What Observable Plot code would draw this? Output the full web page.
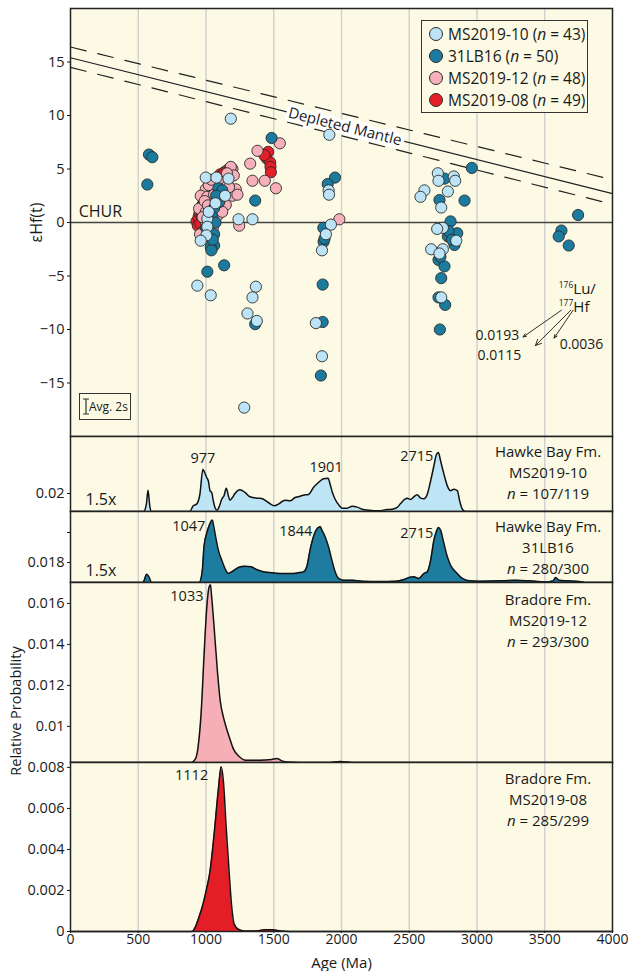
<!DOCTYPE html>
<html><head><meta charset="utf-8">
<script src="https://cdn.jsdelivr.net/npm/d3@7"></script>
<script src="https://cdn.jsdelivr.net/npm/@observablehq/plot@0.6"></script>
<style>
body{margin:0;background:#fff;font-family:"Open Sans",sans-serif;color:#1a1a1a;}
#wrap{position:relative;width:628px;height:971px;overflow:hidden;}
#wrap svg{display:block;}
#wrap g[aria-label="y-axis label"]{font-size:16px;}
#wrap g[aria-label="x-axis label"]{font-size:15px;}
.ov{position:absolute;font-size:14px;line-height:21px;white-space:nowrap;}
.legend{position:absolute;border:1.3px solid #333;background:#FCFAE4;box-sizing:border-box;padding:2px 0 0 7px;}
.legend .row{height:22px;line-height:22px;font-size:15.5px;display:flex;align-items:center;white-space:nowrap;}
.legend .sw{display:inline-block;width:12px;height:12px;border-radius:50%;border:1px solid #2b2b2b;margin-right:5px;flex:none;}
.plab{position:absolute;text-align:center;font-size:15px;line-height:21px;width:150px;}
</style></head><body><div id="wrap"></div>
<script>
// ---------- data ----------
const ageDomain = [0, 4000];
const xTicks = [0, 500, 1000, 1500, 2000, 2500, 3000, 3500, 4000];
const gridAges = [500, 1000, 1500, 2000, 2500, 3000, 3500];
const epsDomain = [-20, 20];
const epsTicks = [-15, -10, -5, 0, 5, 10, 15];

// Depleted mantle evolution lines (age Ma, eHf)
const dmAges = [0, 4000];
const dmSolid = [15.4, 2.7];
const dmUpper = [16.4, 4.0];
const dmLower = [14.5, 1.7];
const dmLabel = [{age: 2025, eps: 8.95, text: "Depleted Mantle"}];

// sample names
const sampleNames = ["MS2019-10", "31LB16", "MS2019-12", "MS2019-08"];
const sampleCounts = [43, 50, 48, 49];
const sampleColors = ["#BCE4F6", "#1B7B9F", "#F5B0B9", "#E51F27"];

// eHf(t) points [age, eHf]
const ms201910 = [[1183,9.7],[1910,8.2],[1905,3.0],[1908,2.6],[1240,0.3],[1343,0.3],[998,4.2],[1077,4.2],[1166,4.1],[1141,2.5],
[1010,0.35],[1010,-0.4],[1003,-1.2],[961,-1.7],[936,-5.9],[1035,-6.8],[1368,-6.0],[1343,-7.0],[1306,-8.5],[1375,-9.2],
[1282,-17.3],[1922,-0.2],[1885,-1.1],[1856,-2.6],[1811,-9.4],[1856,-12.5],[2711,4.6],[2716,3.9],[2829,4.3],[2839,3.9],
[2785,2.9],[2612,3.0],[2583,2.4],[2736,1.4],[2748,-0.5],[2706,-0.6],[2847,-1.7],[2662,-2.5],[2748,-2.5],[2723,-2.9],
[2736,-7.0],[1020,1.0],[1070,1.8]];
const lb31 = [[579,6.35],[604,6.1],[567,3.55],[1484,7.9],[1952,4.2],[1898,3.6],[1363,2.05],[1092,3.2],[1097,1.9],[1060,1.35],
[1060,-1.1],[1060,-2.15],[1035,-2.3],[1040,-2.6],[1010,-4.6],[1134,-4.0],[1363,-9.5],[1866,-0.5],[1868,-1.8],[1861,-5.8],
[1861,-9.3],[1848,-14.3],[2760,4.1],[2723,2.1],[2908,2.05],[2962,5.1],[2805,0.1],[2854,-1.0],[2785,-1.3],[2834,-2.1],
[2716,-3.5],[2760,-4.1],[2736,-5.2],[2716,-7.0],[2765,-7.7],[2726,-10.0],[3746,0.7],[3623,-0.75],[3603,-1.3],[3677,-2.15],
[1875,-1.5],[1000,-0.5],[1046,0.5],[1120,3.0],[1075,2.5],[1050,-1.6],[2790,-0.8],[2730,-3.2],[1070,0.0],[2815,-1.6]];
const ms201912 = [[1545,7.4],[1380,6.7],[1326,5.5],[1343,3.9],[1434,3.9],[1516,3.2],[1195,5.0],[998,3.1],[1047,3.1],[1146,3.0],
[1220,3.1],[961,2.5],[1010,2.4],[1121,2.2],[1195,2.5],[1047,1.9],[986,1.6],[1146,1.65],[949,1.3],[998,0.96],
[1035,0.8],[1085,0.65],[1060,0.03],[1245,-0.3],[974,-0.9],[956,-1.1],[1984,0.3],[1183,5.2],[1130,4.0],[1100,3.8],
[1020,3.5],[1160,3.6],[1232,2.6],[1000,0.0],[1050,-0.5],[1075,1.2],[990,2.0],[1110,2.8],[1170,3.3],[1090,4.0],
[1040,4.0],[975,0.5],[1025,-1.3],[1120,1.0],[1205,4.4],[1060,2.6],[1155,4.6],[1015,1.6]];
const ms201908 = [[930,0.1],[940,-0.3],[945,0.5],[952,0.9],[958,-0.1],[963,1.2],[968,0.6],[972,1.6],[978,1.0],[983,2.0],
[988,1.4],[992,0.3],[996,2.3],[1000,1.8],[1004,1.1],[1008,2.7],[1012,2.1],[1016,3.0],[1020,1.5],[1025,2.5],
[1030,3.3],[1035,2.0],[1040,3.5],[1045,2.8],[1050,1.2],[1055,3.7],[1060,2.4],[1066,3.2],[1072,4.0],[1078,2.9],
[1085,3.6],[1092,4.2],[1098,3.3],[1105,4.5],[1112,3.8],[1120,4.4],[1128,3.5],[1135,4.7],[1145,4.1],[1158,4.9],
[1170,4.3],[1180,5.1],[1035,-0.5],[1459,6.6],[1447,6.0],[1474,5.6],[1476,5.2],[1479,4.7],[1430,6.3]];

// 176Lu/177Hf annotation (age, eHf)
const luSup = [{age: 3711, eps: -6.2, text: "176"}, {age: 3711, eps: -7.95, text: "177"}];
const luMain = [{age: 3711, eps: -6.2, text: "Lu/"}, {age: 3711, eps: -7.95, text: "Hf"}];
const luArrows = [
  {x1: 3623, y1: -8.2, x2: 3340, y2: -10.7, label: "0.0193", lx: 3312, ly: -10.56},
  {x1: 3692, y1: -8.2, x2: 3431, y2: -11.5, label: "0.0115", lx: 3327, ly: -12.4},
  {x1: 3709, y1: -8.2, x2: 3569, y2: -10.8, label: "0.0036", lx: 3771, ly: -11.4}
];
const chur = [{age: 60, eps: 0, text: "CHUR"}];

// Probability density curves [age, relative probability]
const dens10 = [[0,0],[540,0],[560,0.00049],[572,0.00142],[585,0.00038],[595,0],[880,0],[906,0.00038],[931,0.00049],[955,0.00115],
[977,0.00282],[990,0.0026],[1005,0.00227],[1017,0.00205],[1030,0.00138],[1042,0.00127],[1054,0.00071],[1066,0.00027],[1082,0.00009],[1100,0.00038],
[1116,0.00082],[1133,0.00105],[1150,0.00155],[1165,0.00105],[1177,0.00075],[1195,0.00093],[1214,0.0012],[1251,0.00145],[1288,0.00127],[1325,0.00098],
[1374,0.00089],[1411,0.00087],[1460,0.0006],[1505,0.00038],[1534,0.00049],[1584,0.00075],[1621,0.00071],[1658,0.00093],[1682,0.00098],[1719,0.00109],
[1756,0.00113],[1793,0.0016],[1830,0.00193],[1867,0.00218],[1901,0.00222],[1916,0.00182],[1933,0.00127],[1953,0.00082],[1985,0.00038],[2005,0.00022],
[2042,0.00022],[2079,0.00035],[2116,0.00029],[2153,0.00015],[2202,0.00009],[2276,0.00005],[2337,0.00013],[2374,0.00015],[2411,0.00027],[2436,0.00053],
[2468,0.00082],[2485,0.00089],[2510,0.0008],[2534,0.00098],[2559,0.00111],[2584,0.00089],[2608,0.00085],[2633,0.00115],[2658,0.00205],[2682,0.00305],
[2700,0.00378],[2715,0.00393],[2731,0.00338],[2756,0.00249],[2781,0.00171],[2805,0.00138],[2830,0.00149],[2855,0.00138],[2872,0.00071],[2892,0.00015],
[2916,0],[4000,0]];
const dens31 = [[0,0],[535,0],[544,0.00015],[562,0.00055],[579,0.00038],[599,0],[950,0],[973,0.00082],[985,0.00238],[1005,0.00327],
[1022,0.00376],[1047,0.00416],[1054,0.00389],[1071,0.00305],[1091,0.00216],[1116,0.00149],[1140,0.00093],[1165,0.0006],[1190,0.00071],[1239,0.001],
[1288,0.00109],[1333,0.00105],[1374,0.00087],[1424,0.00071],[1485,0.00065],[1559,0.0006],[1633,0.0006],[1682,0.00065],[1719,0.00071],[1744,0.00105],
[1768,0.00216],[1793,0.00305],[1830,0.00367],[1844,0.00371],[1855,0.00349],[1879,0.00305],[1904,0.00238],[1929,0.00149],[1953,0.00071],[1978,0.00027],
[2015,0.00015],[2079,0.00015],[2153,0.00009],[2276,0.00007],[2399,0.00009],[2461,0.0002],[2498,0.00033],[2534,0.00038],[2571,0.00027],[2608,0.0006],
[2633,0.00071],[2658,0.00149],[2682,0.00282],[2700,0.00338],[2715,0.00367],[2731,0.00349],[2756,0.0026],[2781,0.00171],[2805,0.00115],[2842,0.00071],
[2892,0.00027],[2941,0.00011],[3015,0.00009],[3187,0.00011],[3286,0.00015],[3384,0.00011],[3507,0.00004],[3562,0.00011],[3581,0.00033],[3606,0.00015],
[3655,0.00011],[3729,0.00009],[3778,0.00004],[3800,0],[4000,0]];
const dens12 = [[0,0],[891,0],[921,0.00016],[941,0.00073],[965,0.00252],[986,0.00528],[1004,0.0074],[1022,0.00854],[1033,0.00867],[1040,0.00821],
[1060,0.00659],[1084,0.00447],[1105,0.00301],[1129,0.0022],[1149,0.00171],[1173,0.00122],[1203,0.00065],[1247,0.00028],[1292,0.00011],[1396,0.00011],
[1485,0.00015],[1521,0.0002],[1559,0.00008],[1604,0.00002],[1700,0],[1900,0],[1990,0.00005],[2100,0],[4000,0]];
const dens08 = [[0,0],[897,0],[920,0.0002],[947,0.00068],[971,0.00117],[1001,0.00198],[1030,0.00296],[1060,0.00475],[1090,0.00686],[1112,0.00803],
[1128,0.00735],[1149,0.00507],[1170,0.00296],[1188,0.00133],[1208,0.00036],[1238,0.00011],[1283,0.00003],[1372,0.00003],[1431,0.00008],[1490,0.00008],
[1550,0.00003],[1609,0],[4000,0]];

const panelFormation = ["Hawke Bay Fm.", "Hawke Bay Fm.", "Bradore Fm.", "Bradore Fm."];
const panelSamples = ["MS2019-10", "31LB16", "MS2019-12", "MS2019-08"];
const panelCounts = ["107/119", "280/300", "293/300", "285/299"];
const panelPeaks = [[977, 1901, 2715], [1047, 1844, 2715], [1033], [1112]];
const panelBases = [0.0188, 0.01667, 0.00824, 0];
const panelTops = [0.0238, 0.0214, 0.01702, 0.00824];
const panelTicks = [[0.02], [0.018, 0.02], [0.01, 0.012, 0.014, 0.016], [0, 0.002, 0.004, 0.006, 0.008]];
const panelTickLabels = [["0.02"], ["0.018", ""], ["0.01", "0.012", "0.014", "0.016"], ["0", "0.002", "0.004", "0.006", "0.008"]];
const panelScaleNote = ["1.5x", "1.5x", null, null];

// ---------- drawing ----------
const cream = "#FCFAE4";
const gridColor = "#D2D2D0";
const ink = "#1a1a1a";
const font = "'Open Sans', sans-serif";
const fs = 14.5;
const wrap = document.getElementById("wrap");
const common = {width: 628, marginLeft: 70, marginRight: 16,
  style: {fontFamily: font, fontSize: "14px", color: ink, background: "transparent", overflow: "visible"}};
const pts = arr => arr.map(([age, eps]) => ({age, eps}));
const dmRows = dmAges.map((age, i) => ({age, solid: dmSolid[i], upper: dmUpper[i], lower: dmLower[i]}));
const dotStyle = {x: "age", y: "eps", r: 5.6, stroke: "#2a2a2a", strokeWidth: 0.9};

const topPlot = Plot.plot({
  ...common, height: 436, marginTop: 8, marginBottom: 0,
  x: {domain: ageDomain, axis: null},
  y: {domain: epsDomain},
  marks: [
    Plot.frame({fill: cream, stroke: null}),
    Plot.ruleX(gridAges, {stroke: gridColor, strokeWidth: 1.5}),
    Plot.ruleY([0], {stroke: "#444", strokeWidth: 1.3}),
    Plot.axisY({ticks: epsTicks, tickSize: 3, tickPadding: 3, fontSize: fs, label: "εHf(t)", labelAnchor: "center", labelArrow: "none", labelOffset: 40}),
    Plot.line(dmRows, {x: "age", y: "upper", stroke: "#222", strokeWidth: 1.2, strokeDasharray: "16,12"}),
    Plot.line(dmRows, {x: "age", y: "lower", stroke: "#222", strokeWidth: 1.2, strokeDasharray: "16,12"}),
    Plot.line(dmRows, {x: "age", y: "solid", stroke: "#222", strokeWidth: 1.2}),
    Plot.text(dmLabel, {x: "age", y: "eps", text: "text", rotate: 14, fontSize: 15, fill: ink, stroke: "white", strokeWidth: 7, paintOrder: "stroke"}),
    Plot.text(chur, {x: "age", y: "eps", text: "text", dy: -11, textAnchor: "start", fontSize: 16, fill: ink}),
    Plot.dot(pts(ms201908), {...dotStyle, fill: sampleColors[3]}),
    Plot.dot(pts(ms201912), {...dotStyle, fill: sampleColors[2]}),
    Plot.dot(pts(lb31), {...dotStyle, fill: sampleColors[1]}),
    Plot.dot(pts(ms201910), {...dotStyle, fill: sampleColors[0]}),
    Plot.arrow(luArrows.filter(d => d.label !== "0.0115"), {x1: "x1", y1: "y1", x2: "x2", y2: "y2", stroke: ink, strokeWidth: 0.9, headLength: 6, headAngle: 45}),
    Plot.arrow(luArrows.filter(d => d.label === "0.0115"), {x1: "x1", y1: "y1", x2: "x2", y2: "y2", stroke: ink, strokeWidth: 0.9, headLength: 11, headAngle: 50}),
    Plot.text(luArrows.filter(d => d.label !== "0.0036"), {x: "lx", y: "ly", text: "label", textAnchor: "end", fontSize: 14, fill: ink}),
    Plot.text(luArrows.filter(d => d.label === "0.0036"), {x: "lx", y: "ly", text: "label", textAnchor: "middle", fontSize: 14, fill: ink}),
    Plot.text(luSup, {x: "age", y: "eps", text: "text", textAnchor: "end", fontSize: 8.5, dy: -4, fill: ink}),
    Plot.text(luMain, {x: "age", y: "eps", text: "text", textAnchor: "start", fontSize: 15, lineHeight: 1, fill: ink}),
    Plot.frame({stroke: "#222", strokeWidth: 1.5})
  ]
});
wrap.appendChild(topPlot);

const densSets = [dens10, dens31, dens12, dens08];
const densFills = ["#BDE5F6", "#1D7CA0", "#F6AEB7", "#E41E26"];
const panelHeights = [75, 71, 180, 169];
const peakOffsets = [
  [{dx: 0, dy: -11, anchor: "middle"}, {dx: -2, dy: -11, anchor: "middle"}, {dx: -5, dy: 4, anchor: "end"}],
  [{dx: -7, dy: 6, anchor: "end"}, {dx: -8, dy: 5, anchor: "end"}, {dx: -5, dy: 6, anchor: "end"}],
  [{dx: -7, dy: 12, anchor: "end"}],
  [{dx: -13, dy: 9, anchor: "end"}]
];

densSets.forEach((set, i) => {
  const base = panelBases[i];
  const rows = set.map(([age, d]) => ({age, y: base + d}));
  const last = i === 3;
  const mb = last ? 40 : 0;
  const peakRows = panelPeaks[i].map(a => ({age: a, y: base + set.find(r => r[0] === a)[1], text: String(a)}));
  const tickMap = new Map(panelTicks[i].map((t, k) => [t, panelTickLabels[i][k]]));
  const marks = [
    Plot.frame({fill: cream, stroke: null}),
    Plot.ruleX(gridAges, {stroke: gridColor, strokeWidth: 1.5}),
    Plot.areaY(rows, {x: "age", y1: () => base, y2: "y", fill: densFills[i], curve: "monotone-x"}),
    Plot.line(rows, {x: "age", y: "y", stroke: "#111", strokeWidth: 1.5, curve: "monotone-x"}),
    ...peakRows.map((p, k) => Plot.text([p], {x: "age", y: "y", text: "text", dx: peakOffsets[i][k].dx, dy: peakOffsets[i][k].dy, textAnchor: peakOffsets[i][k].anchor, fontSize: 14.5, fill: ink})),
    Plot.axisY({ticks: panelTicks[i], tickFormat: t => tickMap.get(t), tickSize: 3, tickPadding: 3, fontSize: fs, label: null}),
    Plot.frame({stroke: "#222", strokeWidth: 1.5})
  ];
  if (last) marks.push(Plot.axisX({ticks: xTicks, tickSize: 2, tickPadding: 1, tickFormat: d => String(d), fontSize: 14, label: "Age (Ma)", labelAnchor: "center", labelArrow: "none", labelOffset: 36}));
  if (panelScaleNote[i]) marks.push(Plot.text([panelScaleNote[i]], {frameAnchor: "bottom-left", dx: 15, dy: -7, textAnchor: "start", fontSize: 16, fill: ink}));
  const p = Plot.plot({
    ...common, height: panelHeights[i] + mb, marginTop: 0, marginBottom: mb,
    x: last ? {domain: ageDomain} : {domain: ageDomain, axis: null},
    y: {domain: [base, panelTops[i]]},
    marks
  });
  wrap.appendChild(p);
});

// legend
const legend = document.createElement("div");
legend.className = "legend";
Object.assign(legend.style, {left: "421px", top: "20px", width: "167px", height: "93px"});
sampleNames.forEach((name, i) => {
  const row = document.createElement("div");
  row.className = "row";
  row.innerHTML = `<span class="sw" style="background:${sampleColors[i]}"></span>${name}&nbsp;(<i>n</i>&nbsp;=&nbsp;${sampleCounts[i]})`;
  legend.appendChild(row);
});
wrap.appendChild(legend);

// avg 2s box
const avg = document.createElement("div");
avg.className = "ov";
Object.assign(avg.style, {left: "79px", top: "393px", width: "52px", height: "27px", border: "1.2px solid #333", boxSizing: "border-box", fontSize: "12px", lineHeight: "25px"});
avg.innerHTML = `<svg width="10" height="25" style="position:absolute;left:1px;top:0"><path d="M2,5H8M5,5V20M2,20H8" stroke="#333" stroke-width="1.2" fill="none"/></svg><span style="position:absolute;left:9px;top:0">Avg. 2s</span>`;
wrap.appendChild(avg);

// panel labels
const labelTops = [441, 516, 589, 768];
panelSamples.forEach((s, i) => {
  const d = document.createElement("div");
  d.className = "plab";
  Object.assign(d.style, {left: (548 - 75) + "px", top: labelTops[i] + "px"});
  d.innerHTML = `${panelFormation[i]}<br>${s}<br><i>n</i>&nbsp;=&nbsp;${panelCounts[i]}`;
  wrap.appendChild(d);
});

// relative probability label
const rp = document.createElement("div");
rp.className = "ov";
rp.textContent = "Relative Probability";
Object.assign(rp.style, {left: "15px", top: "711px", transform: "translate(-50%,-50%) rotate(-90deg)", fontSize: "14.5px"});
wrap.appendChild(rp);
</script></body></html>
